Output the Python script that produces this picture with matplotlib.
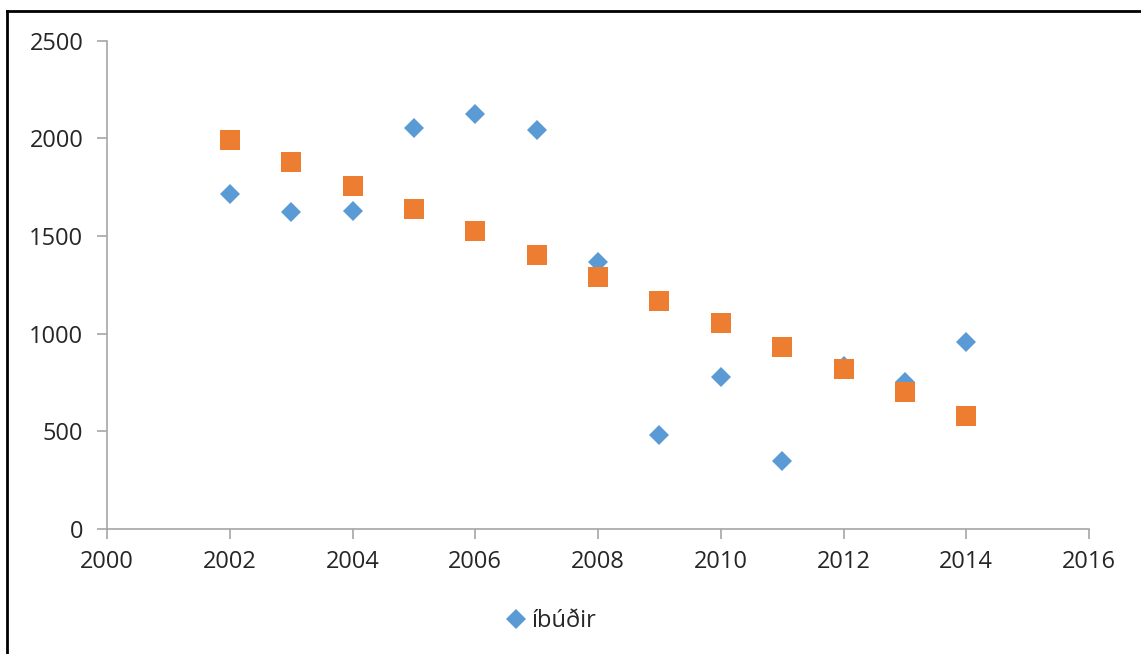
"""Scatter of yearly dwelling counts with a linear trend series."""

import matplotlib

matplotlib.use("Agg")

import matplotlib.pyplot as plt  # noqa: E402
from matplotlib.lines import Line2D  # noqa: E402

years = [2002, 2003, 2004, 2005, 2006, 2007, 2008, 2009, 2010, 2011, 2012, 2013, 2014]
ibudir = [1715, 1623, 1628, 2053, 2125, 2043, 1367, 481, 778, 348, 832, 752, 957]
trend = [1992, 1879, 1756, 1638, 1526, 1403, 1290, 1167, 1055, 932, 819, 701, 578]

x_ticks = list(range(2000, 2017, 2))
y_ticks = list(range(0, 2501, 500))

BLUE = "#5B9BD5"
ORANGE = "#ED7D31"
AXIS_GREY = "#A6A6A6"
TEXT = "#262626"

plt.rcParams["font.family"] = ["Open Sans", "DejaVu Sans"]

fig = plt.figure(figsize=(11.41, 6.54), dpi=100)
ax = fig.add_axes([107 / 1141, 125 / 654, (1089 - 107) / 1141, (529 - 40.7) / 654])

ax.plot(years, ibudir, linestyle="none", marker="D", markersize=10,
        color=BLUE, markeredgewidth=0, label="íbúðir", zorder=3)
ax.plot(years, trend, linestyle="none", marker="s", markersize=14,
        color=ORANGE, markeredgewidth=0, zorder=4)

ax.set_xlim(2000, 2016)
ax.set_ylim(0, 2500)
ax.set_xticks(x_ticks)
ax.set_yticks(y_ticks)

for side in ("top", "right"):
    ax.spines[side].set_visible(False)
for side in ("left", "bottom"):
    ax.spines[side].set_color(AXIS_GREY)
    ax.spines[side].set_linewidth(1.2)

ax.tick_params(axis="both", direction="out", length=7, width=1.2,
               color=AXIS_GREY, labelcolor=TEXT, labelsize=17)
ax.tick_params(axis="y", pad=10)
ax.tick_params(axis="x", pad=8)

handles, labels = ax.get_legend_handles_labels()
fig.legend(handles, labels, loc="center", bbox_to_anchor=(550 / 1141, 1 - 621 / 654),
           frameon=False, fontsize=17, handletextpad=0.1, handlelength=1.1,
           labelcolor=TEXT)

# outer chart border, only the top and left edges fall inside the image
border = dict(color="black", linewidth=2)
fig.add_artist(Line2D([7 / 1141, 1.0], [1 - 10.5 / 654, 1 - 10.5 / 654], **border))
fig.add_artist(Line2D([7 / 1141, 7 / 1141], [0.0, 1 - 10.5 / 654], **border))

fig.savefig("out.png", dpi=100, facecolor="white")
